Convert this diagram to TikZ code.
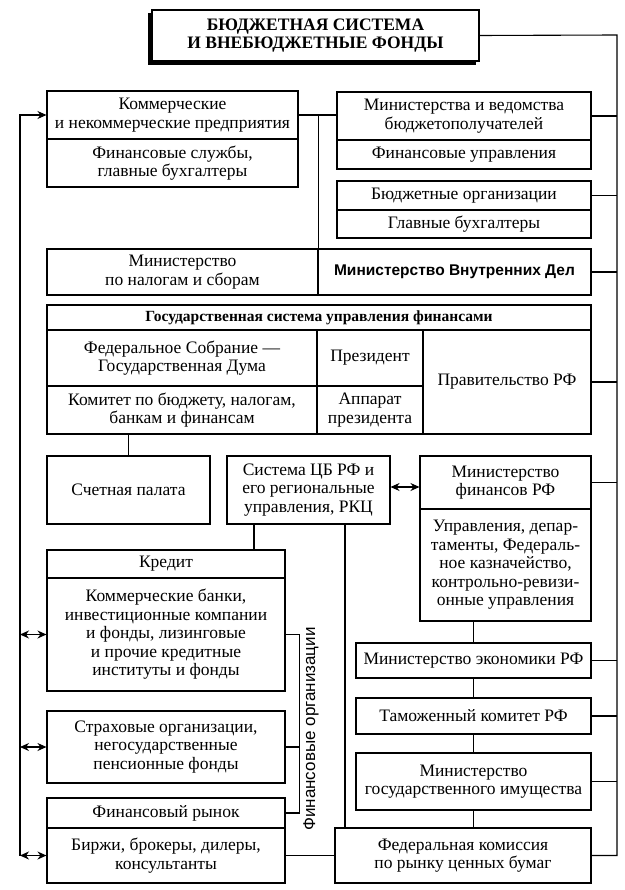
\documentclass[tikz,border=0pt]{standalone}
\usepackage{fontspec}
\setmainfont{Liberation Serif}
\newfontfamily\sansf{Liberation Sans}
\usetikzlibrary{arrows.meta,calc}
\newcommand\rmsz{\fontsize{17.5}{18.5}\selectfont}
\tikzset{
  box/.style={draw, line width=1.1pt, fill=white, inner sep=1pt, align=center, font=\rmsz},
  wh/.style 2 args={minimum width=#1pt, minimum height=#2pt},
  ln/.style={line width=1.1pt},
  tip/.style={line width=1.1pt, -{Stealth[length=9pt,width=8pt]}},
  dtip/.style={line width=1.1pt, {Stealth[length=9pt,width=8pt]}-{Stealth[length=9pt,width=8pt]}},
}
\begin{document}
\begin{tikzpicture}[x=1pt,y=-1pt]
\useasboundingbox (0,0) rectangle (624,890);
% title
\fill (148,13) rectangle (476,65);
\node[box, wh={327}{51}, font=\fontsize{17.5}{18.5}\selectfont\bfseries] (title) at (315.5,35.5) {БЮДЖЕТНАЯ СИСТЕМА\\И ВНЕБЮДЖЕТНЫЕ ФОНДЫ};
% top row
\node[box, wh={251}{48}] (kom) at (172.5,115) {Коммерческие\\и некоммерческие предприятия};
\node[box, wh={251}{48}] (komb) at (172.5,163) {Финансовые службы,\\главные бухгалтеры};
\node[box, wh={254}{48}] (min) at (464,116) {Министерства и ведомства\\бюджетополучателей};
\node[box, wh={254}{29}] (minb) at (464,154.5) {Финансовые управления};
\node[box, wh={254}{29}] (borg) at (464,195.5) {Бюджетные организации};
\node[box, wh={254}{28}] (borgb) at (464,224) {Главные бухгалтеры};
\node[box, wh={271}{46}] (tax) at (182.5,272) {Министерство\\по налогам и сборам};
\node[box, wh={273}{46}, font=\sansf\bfseries\fontsize{15.5}{18}\selectfont] (mvd) at (454.5,272) {Министерство Внутренних Дел};
% government
\node[box, wh={544}{25}, font=\fontsize{15.5}{18}\selectfont\bfseries] (gov) at (319,317.5) {Государственная система управления финансами};
\node[box, wh={270}{56}] (fed) at (182,358) {Федеральное Собрание —\\Государственная Дума};
\node[box, wh={270}{48}] (kom2) at (182,410) {Комитет по бюджету, налогам,\\банкам и финансам};
\node[box, wh={106}{56}] (pres) at (370,358) {Президент};
\node[box, wh={106}{48}] (appr) at (370,410) {Аппарат\\президента};
\node[box, wh={168}{104}] (prav) at (507,382) {Правительство РФ};
% middle
\node[box, wh={163}{68}] (sch) at (128.5,490) {Счетная палата};
\node[box, wh={163}{68}] (cb) at (308.5,490) {Система ЦБ РФ и\\его региональные\\управления, РКЦ};
\node[box, wh={171}{53}] (mf) at (505.5,482.5) {Министерство\\финансов РФ};
\node[box, wh={171}{112}] (mfb) at (505.5,565) {Управления, депар-\\таменты, Федераль-\\ное казначейство,\\контрольно-ревизи-\\онные управления};
% left column
\node[box, wh={238}{28}] (kred) at (166,564) {Кредит};
\node[box, wh={238}{113}] (kredb) at (166,634.5) {Коммерческие банки,\\инвестиционные компании\\и фонды, лизинговые\\и прочие кредитные\\институты и фонды};
\node[box, wh={238}{72}] (str) at (166,747) {Страховые организации,\\негосударственные\\пенсионные фонды};
\node[box, wh={238}{30}] (fr) at (166,813) {Финансовый рынок};
\node[box, wh={238}{55}] (frb) at (166,855.5) {Биржи, брокеры, дилеры,\\консультанты};
% right column
\node[box, wh={235}{35}] (me) at (473.5,660.5) {Министерство экономики РФ};
\node[box, wh={235}{36}] (tam) at (473.5,716) {Таможенный комитет РФ};
\node[box, wh={235}{57}] (imu) at (473.5,781.5) {Министерство\\государственного имущества};
\node[box, wh={256}{55}] (fk) at (463,855.5) {Федеральная комиссия\\по рынку ценных бумаг};
% label
\node[rotate=90, inner sep=0pt, font=\sansf\fontsize{17}{18}\selectfont] (fo) at (311,729) {Финансовые организации};
% right bus
\coordinate (busR) at (617,35);
\draw[ln] (title.east) -- (busR) -- (busR |- fk.east) -- (fk.east);
\foreach \n in {min,borg,mvd,prav,mf,me,tam,imu} \draw[ln] (\n.east) -- (\n.east -| busR);
% left bus
\coordinate (busL) at (20,115);
\draw[tip] (busL |- frb.west) -- (busL) -- (kom.west);
\foreach \n in {kredb,str,frb} \draw[dtip] (\n.west -| busL) -- (\n.west);
% top connectors
\draw[ln] (kom.east) -- (kom.east -| min.west);
\draw[ln] (kom.east -| tax.east) -- (tax.north east);
% gov to sch
\draw[ln] (sch.north) -- (sch.north |- kom2.south);
% cb
\draw[dtip] ([yshift=3pt]cb.east) -- ([yshift=3pt]cb.east -| mf.west);
\draw[ln] ([xshift=-54.5pt]cb.south) -- ([xshift=-54.5pt]cb.south |- kred.north);
\draw[ln] ([xshift=36.5pt]cb.south) -- ([xshift=36.5pt]cb.south |- fk.north);
% right chain
\draw[ln] (me.north) -- (me.north |- mfb.south);
\draw[ln] (me.south) -- (tam.north);
\draw[ln] (tam.south) -- (imu.north);
\draw[ln] (imu.south) -- (imu.south |- fk.north);
% bracket
\draw[ln] (kredb.east) -- ++(14,0) coordinate (brk) -- (brk |- fr.east) -- (fr.east);
\draw[ln] (str.east) -- (str.east -| brk);
% bottom link
\draw[ln] (frb.east) -- (fk.west);
\end{tikzpicture}
\end{document}
